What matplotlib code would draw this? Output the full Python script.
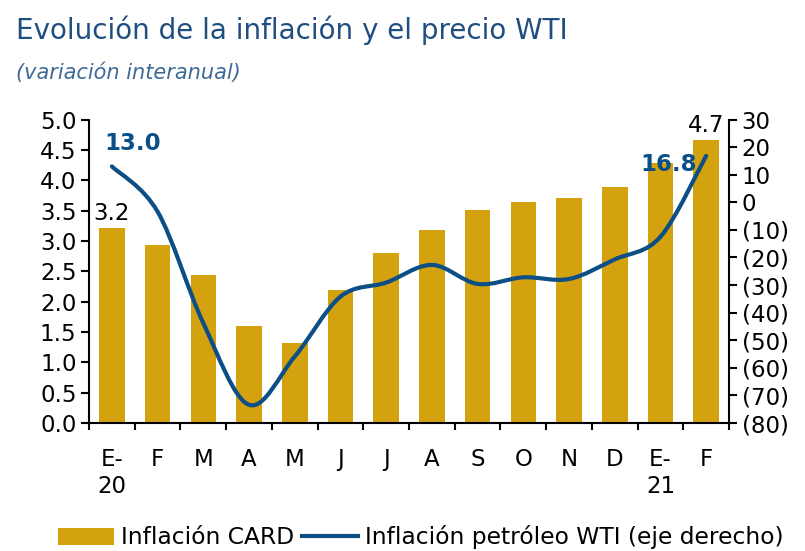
import numpy as np
import matplotlib
matplotlib.use("Agg")
import matplotlib.pyplot as plt
from matplotlib.path import Path
from matplotlib.patches import PathPatch, Patch
from matplotlib.lines import Line2D
from matplotlib.ticker import FuncFormatter

# Data
meses = ["E-\n20", "F", "M", "A", "M", "J", "J", "A", "S", "O", "N", "D", "E-\n21", "F"]
inflacion_card = [3.22, 2.93, 2.44, 1.59, 1.31, 2.19, 2.80, 3.18, 3.51, 3.64, 3.71, 3.88, 4.29, 4.66]
inflacion_wti = [13.0, -3.4, -43.8, -73.4, -55.9, -34.2, -29.1, -22.7, -29.6, -27.2, -27.8, -20.7, -12.5, 16.8]

bar_color = "#D4A20F"
line_color = "#0B4F86"
title_color = "#1F4E80"
fs = 16.5

fig = plt.figure(figsize=(8.05, 5.51), dpi=100)
ax = fig.add_axes([0.1106, 0.2323, 0.795, 0.5508])
ax2 = ax.twinx()

x = np.arange(len(meses))
ax.bar(x, inflacion_card, width=0.56, color=bar_color, zorder=2)
ax.set_xlim(-0.5, len(meses) - 0.5)
ax.set_ylim(0, 5)
ax.set_yticks(np.arange(0, 5.01, 0.5))
ax.yaxis.set_major_formatter(FuncFormatter(lambda v, p: f"{v:.1f}"))

# category boundaries as tick marks, labels in the middle
ax.set_xticks(np.arange(-0.5, len(meses), 1.0))
ax.set_xticklabels([])
ax.set_xticks(x, minor=True)
ax.set_xticklabels(meses, minor=True)
ax.tick_params(axis="x", which="major", length=5, width=1.5, direction="out")
ax.tick_params(axis="x", which="minor", length=0, labelsize=fs, pad=18)
ax.tick_params(axis="y", length=6, width=1.5, labelsize=fs, pad=3)

for s in ["top", "right"]:
    ax.spines[s].set_visible(False)
for s in ["left", "bottom"]:
    ax.spines[s].set_linewidth(1.5)

# right axis
ax2.set_ylim(-80, 30)
ax2.set_yticks(np.arange(-80, 31, 10))
ax2.yaxis.set_major_formatter(FuncFormatter(lambda v, p: f"({abs(v):.0f})" if v < 0 else f"{v:.0f}"))
ax2.tick_params(axis="y", length=6, width=1.5, labelsize=fs, pad=3)
for s in ["top", "left", "bottom"]:
    ax2.spines[s].set_visible(False)
ax2.spines["right"].set_linewidth(1.5)

# smoothed line (Excel-style bezier)
pts = np.column_stack([x, inflacion_wti])
verts = [tuple(pts[0])]
codes = [Path.MOVETO]
n = len(pts)
for i in range(n - 1):
    p0 = pts[max(i - 1, 0)]
    p1 = pts[i]
    p2 = pts[i + 1]
    p3 = pts[min(i + 2, n - 1)]
    c1 = p1 + (p2 - p0) / 6
    c2 = p2 - (p3 - p1) / 6
    verts += [tuple(c1), tuple(c2), tuple(p2)]
    codes += [Path.CURVE4] * 3
ax2.add_patch(PathPatch(Path(verts, codes), fill=False, edgecolor=line_color,
                        linewidth=3, capstyle="round", zorder=3))

# data labels
ax.text(0, inflacion_card[0] + 0.05, "3.2", ha="center", va="bottom", fontsize=fs)
ax.text(13, inflacion_card[-1] + 0.05, "4.7", ha="center", va="bottom", fontsize=fs)
ax2.text(0.45, inflacion_wti[0] + 4, "13.0", ha="center", va="bottom", fontsize=fs,
         fontweight="bold", color=line_color)
ax2.text(12.8, inflacion_wti[-1] - 3, "16.8", ha="right", va="center", fontsize=fs,
         fontweight="bold", color=line_color)

# titles
fig.text(0.02, 0.945, "Evolución de la inflación y el precio WTI", fontsize=20,
         color=title_color, family="DejaVu Sans", va="center")
fig.text(0.02, 0.868, "(variación interanual)", fontsize=15, style="italic",
         color="#3F6A96", family="DejaVu Sans", va="center")

# legend
handles = [Patch(facecolor=bar_color, edgecolor="none"),
           Line2D([0], [0], color=line_color, linewidth=3)]
fig.legend(handles, ["Inflación CARD", "Inflación petróleo WTI (eje derecho)"],
           loc="center", bbox_to_anchor=(0.523, 0.025), ncol=2, frameon=False,
           fontsize=16.8, handlelength=2.4, handletextpad=0.3, columnspacing=0.35,
           handleheight=0.75)

fig.savefig("out.png", dpi=100)
